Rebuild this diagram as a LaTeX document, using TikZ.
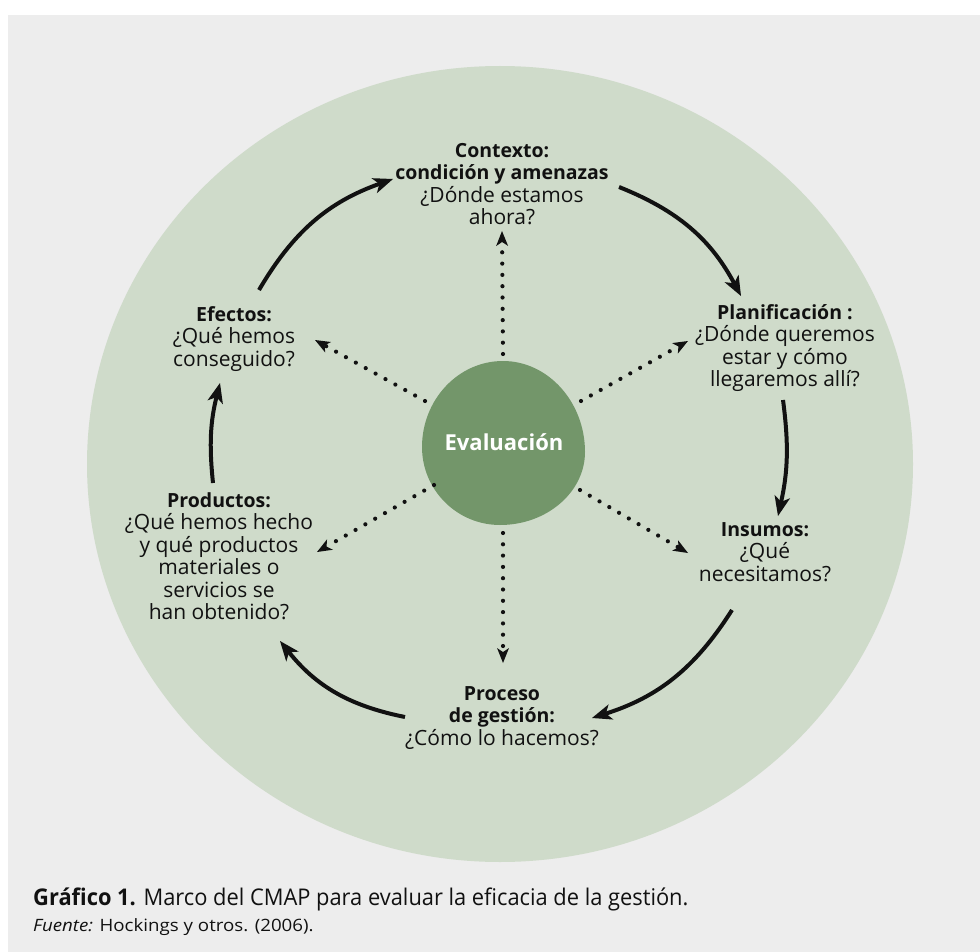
\documentclass[tikz,border=0pt]{standalone}
\usepackage{fontspec}
\setmainfont{Open Sans}
\newfontfamily\capfont[FakeStretch=0.95]{Open Sans}
\newfontfamily\srcfont[FakeStretch=1.1]{Open Sans}
\usetikzlibrary{arrows.meta}
\definecolor{bggray}{HTML}{EDEDED}
\definecolor{ringgreen}{HTML}{CFDBCA}
\definecolor{blobgreen}{HTML}{73966A}
\definecolor{ink}{HTML}{111111}
\newcommand\headtxt[1]{{\fontsize{19.5}{22.5}\selectfont\bfseries #1}}
\begin{document}
\begin{tikzpicture}[x=1pt,y=-1pt,
  lbl/.style={align=center, font=\fontsize{21}{22.5}\selectfont, text=ink, inner sep=0pt},
  flow/.style={draw=ink, line width=4pt, -{Stealth[length=20pt,width=16pt,inset=5.5pt,line width=0pt]}},
  probe/.style={draw=ink, line width=4.2pt, line cap=round, dash pattern=on 0pt off 11.3pt,
    -{Stealth[length=15pt,width=12pt,inset=4pt,line width=0pt]}}]
\useasboundingbox (0,0) rectangle (980,952);
\fill[white] (0,0) rectangle (980,952);
\fill[bggray] (8,15) rectangle (980,952);
\fill[ringgreen] (500,464) ellipse [x radius=413pt, y radius=398pt];
\fill[blobgreen] (503,361) .. controls (548,361) and (585,402) .. (585,452)
  .. controls (585,492) and (547,525) .. (500,525)
  .. controls (457,525) and (422,490) .. (422,447)
  .. controls (422,400) and (458,361) .. (503,361) -- cycle;

\node[align=center, inner sep=0pt, text=white, font=\fontsize{22}{26}\selectfont\bfseries] (ev) at (504,442) {Evaluación};

\node[lbl] (ctx) at (502,184) {\headtxt{Contexto:}\\\headtxt{condición y amenazas}\\¿Dónde estamos\\ahora?};
\node[lbl] (plan) at (785,348) {\headtxt{Planificación :}\\¿Dónde queremos\\estar y cómo\\llegaremos allí?};
\node[lbl] (ins) at (765,552) {\headtxt{Insumos:}\\¿Qué\\necesitamos?};
\node[lbl] (proc) at (502,718) {\headtxt{Proceso}\\\headtxt{de gestión:}\\¿Cómo lo hacemos?};
\node[lbl] (prod) at (219,556) {\headtxt{Productos:}\\¿Qué hemos hecho\\y qué productos\\materiales o\\servicios se\\han obtenido?};
\node[lbl] (ef) at (234,339) {\headtxt{Efectos:}\\¿Qué hemos\\conseguido?};

% solid cycle connectors
\coordinate (a1s) at (259,290); \coordinate (a1e) at (393,179);
\coordinate (a2s) at (619,187); \coordinate (a2e) at (741,296);
\coordinate (a3s) at (783,400); \coordinate (a3e) at (778,516);
\coordinate (a4s) at (732,610); \coordinate (a4e) at (592,718);
\coordinate (a5s) at (405,717); \coordinate (a5e) at (280,641);
\coordinate (a6s) at (213,483); \coordinate (a6e) at (220,383);
\draw[flow] (a1s) to[bend left=20] (a1e);
\draw[flow] (a2s) to[bend left=20] (a2e);
\draw[flow] (a3s) to[bend left=10] (a3e);
\draw[flow] (a4s) to[bend left=20] (a4e);
\draw[flow] (a5s) to[bend left=20] (a5e);
\draw[flow] (a6s) to[bend left=10] (a6e);

% dotted evaluation connectors
\coordinate (d1s) at (503,354); \coordinate (d1e) at (502,231);
\coordinate (d2s) at (581,401); \coordinate (d2e) at (688,341);
\coordinate (d3s) at (425,401); \coordinate (d3e) at (315,340);
\coordinate (d4s) at (434,485); \coordinate (d4e) at (317,552);
\coordinate (d5s) at (580,490); \coordinate (d5e) at (688,553);
\coordinate (d6s) at (503,533); \coordinate (d6e) at (503,663);
\draw[probe] (d1s) -- (d1e);
\draw[probe] (d2s) -- (d2e);
\draw[probe] (d3s) -- (d3e);
\draw[probe] (d4s) -- (d4e);
\draw[probe] (d5s) -- (d5e);
\draw[probe] (d6s) -- (d6e);

\node[anchor=base west, inner sep=0pt, text=ink, font=\capfont\fontsize{23}{26}\selectfont] (cap) at (33,905)
  {\textbf{Gráfico 1.} Marco del CMAP para evaluar la eficacia de la gestión.};
\node[anchor=base west, inner sep=0pt, text=ink, font=\srcfont\fontsize{17}{20}\selectfont] (src) at (33,931)
  {\textit{Fuente:} Hockings y otros. (2006).};
\end{tikzpicture}
\end{document}
